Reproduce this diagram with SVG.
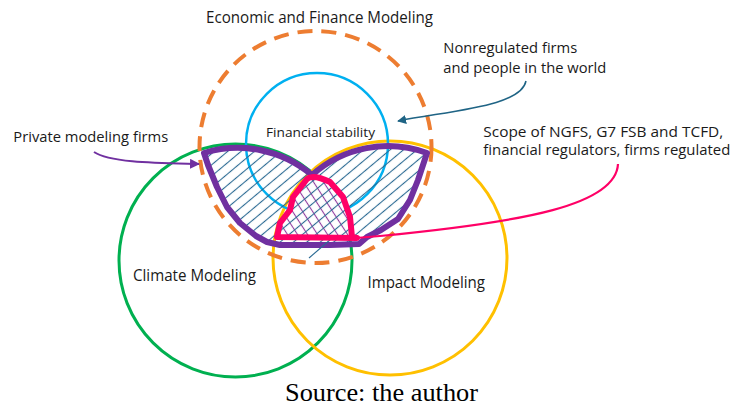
<svg xmlns="http://www.w3.org/2000/svg" width="733" height="406" viewBox="0 0 733 406">
<style>
.lbl{font-family:"Open Sans","Noto Sans","Liberation Sans",sans-serif;fill:#1a1a1a}
.circ{fill:none}
</style>
<defs>
<pattern id="hatchBlue" patternUnits="userSpaceOnUse" width="10" height="8.6" patternTransform="rotate(-40)">
<line x1="-1" y1="4.3" x2="11" y2="4.3" stroke="#2A6A93" stroke-width="1.1"/>
</pattern>
<pattern id="hatchPurple" patternUnits="userSpaceOnUse" width="10" height="8.4" patternTransform="rotate(57)">
<line x1="-1" y1="4.2" x2="11" y2="4.2" stroke="#8E3A9D" stroke-width="1.1"/>
</pattern>
<marker id="arrPurple" viewBox="0 0 10 10" refX="9" refY="5" markerWidth="5" markerHeight="5" orient="auto" markerUnits="strokeWidth">
<path d="M0,0 L10,5 L0,10 z" fill="#7030A0"/>
</marker>
<marker id="arrTeal" viewBox="0 0 10 10" refX="9" refY="5" markerWidth="6" markerHeight="6" orient="auto" markerUnits="strokeWidth">
<path d="M0,0 L10,5 L0,10 z" fill="#1F6485"/>
</marker>
</defs>
<rect width="733" height="406" fill="#ffffff"/>

<g id="climate">
<circle class="circ" cx="235.5" cy="260.5" r="116.5" stroke="#00B050" stroke-width="3"/>
<text class="lbl" x="133" y="280.5" font-size="16" textLength="123" lengthAdjust="spacingAndGlyphs">Climate Modeling</text>
</g>
<g id="impact">
<circle class="circ" cx="390" cy="258" r="117" stroke="#FFC000" stroke-width="3"/>
<text class="lbl" x="367.5" y="287.5" font-size="16" textLength="117.5" lengthAdjust="spacingAndGlyphs">Impact Modeling</text>
</g>
<g id="financial-stability">
<circle class="circ" cx="317" cy="144" r="71" stroke="#00B0F0" stroke-width="2.5"/>
<text class="lbl" x="266" y="137" font-size="13.5" textLength="109" lengthAdjust="spacingAndGlyphs">Financial stability</text>
</g>
<g id="economic">
<circle class="circ" cx="315.5" cy="147" r="116" stroke="#ED7D31" stroke-width="4" stroke-dasharray="15 9"/>
<text class="lbl" x="206" y="23.3" font-size="15.5" textLength="227" lengthAdjust="spacingAndGlyphs">Economic and Finance Modeling</text>
</g>

<g id="private-modeling">
<path d="M204,153 A115,115 0 0 1 312,175 A114,114 0 0 1 427,153 L418,180 L410,200 L398,219 L381,230 L367,237 L359,244 L330,245 L280,245 L267,242 L256,236 L240,223 L227,207 L217,187 L208,165 Z" fill="url(#hatchBlue)" stroke="#7030A0" stroke-width="6" stroke-linejoin="round"/>
<line x1="309" y1="258" x2="331" y2="239" stroke="#2A6A93" stroke-width="1.1"/>
<text class="lbl" x="13.3" y="141.7" font-size="15" textLength="155" lengthAdjust="spacingAndGlyphs">Private modeling firms</text>
</g>

<g id="regulated-scope">
<path d="M307,179 Q313,174 330,182 L343,197 L350,217 L352,237 L357,238 L277,237 L280,223 L290,210 L293,197 Z" fill="#ffffff" stroke="none"/>
<path d="M307,179 Q313,174 330,182 L343,197 L350,217 L352,237 L357,238 L277,237 L280,223 L290,210 L293,197 Z" fill="url(#hatchPurple)" stroke="none"/>
<path d="M307,179 Q313,174 330,182 L343,197 L350,217 L352,237 L357,238 L277,237 L280,223 L290,210 L293,197 Z" fill="url(#hatchBlue)" stroke="#FF0066" stroke-width="6" stroke-linejoin="round"/>
<text class="lbl" font-size="15" x="483.3"><tspan x="483.3" y="136.7" textLength="240" lengthAdjust="spacingAndGlyphs">Scope of NGFS, G7 FSB and TCFD,</tspan><tspan x="483.3" y="155" textLength="247" lengthAdjust="spacingAndGlyphs">financial regulators, firms regulated</tspan></text>
</g>

<g id="nonregulated">
<text class="lbl" font-size="15"><tspan x="443.3" y="53.3" textLength="134" lengthAdjust="spacingAndGlyphs">Nonregulated firms</tspan><tspan x="443.3" y="73.3" textLength="163" lengthAdjust="spacingAndGlyphs">and people in the world</tspan></text>
</g>

<g id="connectors">
<path d="M94,152 C110,163 160,163 199,164" fill="none" stroke="#7030A0" stroke-width="2" marker-end="url(#arrPurple)"/>
<path d="M526,81 C521,106 455,110 398,121" fill="none" stroke="#1F6485" stroke-width="1.5" marker-end="url(#arrTeal)"/>
<path d="M618,164 C616,205 525,222 380,236 L356,238" fill="none" stroke="#FF0066" stroke-width="2.2"/>
</g>

<text x="285" y="400.7" font-family="'Liberation Serif','Times New Roman',serif" font-size="26" textLength="193" lengthAdjust="spacingAndGlyphs" fill="#000">Source: the author</text>
</svg>
